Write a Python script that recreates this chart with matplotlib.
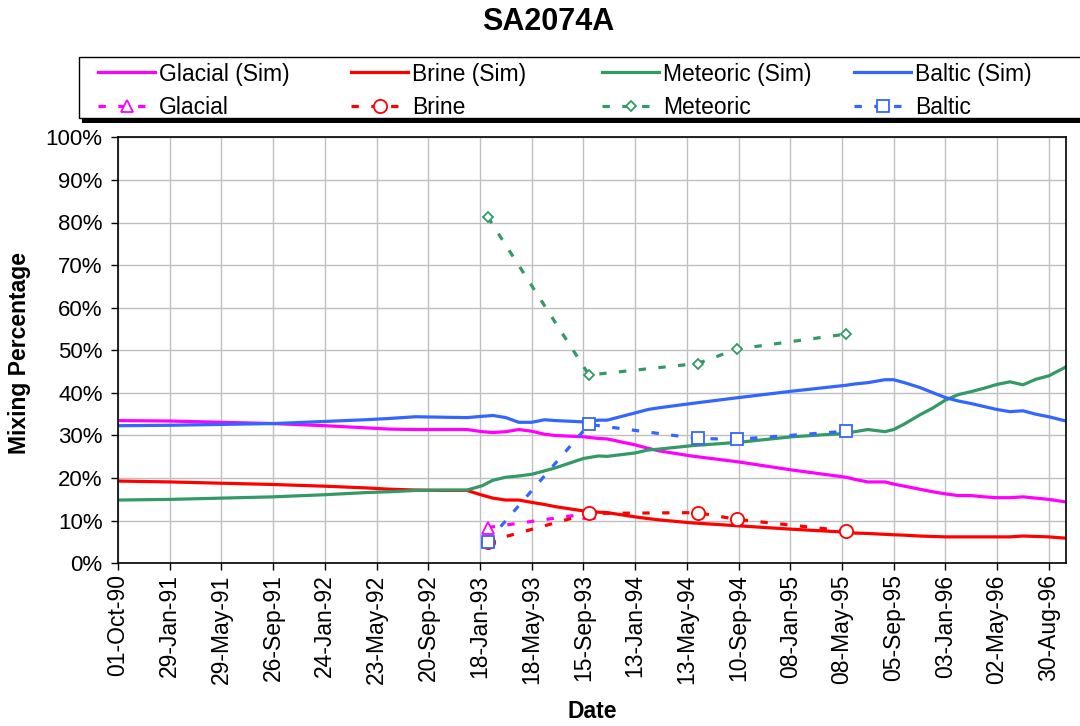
import matplotlib
matplotlib.use("Agg")
import matplotlib.pyplot as plt
import matplotlib.dates as mdates
from matplotlib.patches import Rectangle
from matplotlib.ticker import FuncFormatter
import numpy as np
import pandas as pd

plt.rcParams['font.family'] = ['Liberation Sans', 'DejaVu Sans']

# simulated mixing fractions (%), roughly monthly output
sim_dates = ['1990-10-01', '1991-01-29', '1991-05-29', '1991-09-26', '1992-01-24',
             '1992-04-28', '1992-06-22', '1992-08-21', '1992-10-20', '1992-12-19',
             '1993-01-23', '1993-02-17', '1993-03-19', '1993-04-18', '1993-05-18',
             '1993-06-17', '1993-07-12', '1993-09-15', '1993-10-20', '1993-11-09',
             '1994-01-13', '1994-02-12', '1994-03-09', '1994-05-23', '1994-09-10',
             '1995-01-12', '1995-05-18', '1995-06-07', '1995-07-07', '1995-08-16',
             '1995-09-05', '1995-09-30', '1995-11-04', '1995-12-04', '1996-01-03',
             '1996-02-02', '1996-03-03', '1996-04-02', '1996-05-02', '1996-06-01',
             '1996-07-01', '1996-07-31', '1996-08-30', '1996-10-09']

glacial_sim = [33.5, 33.4, 33.1, 32.8, 32.3, 31.8, 31.5, 31.4, 31.4, 31.4,
               30.9, 30.7, 30.9, 31.4, 31.0, 30.3, 30.0, 29.7, 29.3, 29.2,
               27.8, 27.0, 26.4, 25.2, 23.8, 21.9, 20.2, 19.7, 19.1, 19.1,
               18.6, 18.1, 17.4, 16.8, 16.3, 15.9, 15.9, 15.6, 15.4, 15.4,
               15.6, 15.3, 15.0, 14.4]

brine_sim = [19.3, 19.1, 18.8, 18.5, 18.1, 17.7, 17.4, 17.2, 17.1, 17.1,
             16.0, 15.3, 14.85, 14.85, 14.3, 13.8, 13.3, 12.3, 12.0, 11.9,
             10.9, 10.5, 10.2, 9.5, 8.8, 8.0, 7.3, 7.1, 7.0, 6.8,
             6.7, 6.6, 6.4, 6.3, 6.2, 6.2, 6.2, 6.2, 6.2, 6.2,
             6.4, 6.3, 6.2, 5.9]

meteoric_sim = [14.85, 15.0, 15.3, 15.6, 16.1, 16.6, 16.8, 17.1, 17.2, 17.2,
                18.2, 19.5, 20.2, 20.5, 20.9, 21.7, 22.4, 24.6, 25.2, 25.1,
                25.9, 26.6, 26.8, 27.6, 28.4, 29.7, 30.5, 30.9, 31.4, 30.9,
                31.4, 32.7, 34.8, 36.4, 38.3, 39.6, 40.3, 41.1, 42.0, 42.6,
                41.9, 43.2, 44.0, 46.1]

baltic_sim = [32.3, 32.4, 32.6, 32.8, 33.3, 33.7, 34.0, 34.4, 34.3, 34.2,
              34.5, 34.7, 34.2, 33.1, 33.1, 33.7, 33.5, 33.2, 33.6, 33.6,
              35.3, 36.1, 36.5, 37.5, 38.9, 40.4, 41.8, 42.1, 42.4, 43.1,
              43.1, 42.4, 41.3, 40.1, 38.9, 38.1, 37.5, 36.8, 36.1, 35.6,
              35.8, 35.0, 34.4, 33.4]

# measured samples (%)
obs_dates = ['1993-02-05', '1993-09-28', '1994-06-07', '1994-09-07', '1995-05-17']
glacial_obs = [8.4, 11.7]
brine_obs = [5.1, 11.7, 11.9, 10.3, 7.6]
meteoric_obs = [81.3, 44.2, 46.9, 50.3, 53.8]
baltic_obs = [5.1, 32.6, 29.3, 29.1, 31.0]

c_glac, c_brine, c_met, c_balt = '#FF00FF', '#FF0000', '#339966', '#3366FF'

W, H = 1080, 726
fig = plt.figure(figsize=(W / 100, H / 100), dpi=100)
ax = fig.add_axes([118 / W, 1 - 563.3 / H, (1066 - 118) / W, (563.3 - 137.3) / H])

sd = pd.to_datetime(sim_dates)
od = pd.to_datetime(obs_dates)
lw = 2.3
dash = (0, (2.3, 3.9))

l1, = ax.plot(sd, glacial_sim, color=c_glac, lw=lw, label='Glacial (Sim)')
l2, = ax.plot(sd, brine_sim, color=c_brine, lw=lw, label='Brine (Sim)')
l3, = ax.plot(sd, meteoric_sim, color=c_met, lw=lw, label='Meteoric (Sim)')
l4, = ax.plot(sd, baltic_sim, color=c_balt, lw=lw, label='Baltic (Sim)')

p1, = ax.plot(od[:len(glacial_obs)], glacial_obs, color=c_glac, lw=lw, ls=dash,
              marker='^', ms=8, mfc='white', mec=c_glac, mew=1.3, label='Glacial')
p2, = ax.plot(od, brine_obs, color=c_brine, lw=lw, ls=dash,
              marker='o', ms=9.5, mfc='white', mec=c_brine, mew=1.3, label='Brine')
p3, = ax.plot(od, meteoric_obs, color=c_met, lw=lw, ls=dash,
              marker='D', ms=5.5, mfc='white', mec=c_met, mew=1.3, label='Meteoric')
p4, = ax.plot(od, baltic_obs, color=c_balt, lw=lw, ls=dash,
              marker='s', ms=8, mfc='white', mec=c_balt, mew=1.3, label='Baltic')

start = pd.Timestamp('1990-10-01')
ax.set_xlim(start, start + pd.Timedelta(days=2200))
ax.set_xticks(pd.date_range(start, periods=19, freq='120D'))
ax.xaxis.set_major_formatter(mdates.DateFormatter('%d-%b-%y'))
ax.set_ylim(0, 100)
ax.set_yticks(np.arange(0, 101, 10))
ax.yaxis.set_major_formatter(FuncFormatter(lambda v, p: f'{v:.0f}%'))

ax.grid(True, color='#C0C0C0', lw=1)
ax.set_axisbelow(True)
for s in ax.spines.values():
    s.set_color('black')
    s.set_linewidth(1.2)
ax.tick_params(axis='both', direction='out', length=5, width=1, colors='black')
ax.tick_params(axis='y', labelsize=16, pad=6)
ax.tick_params(axis='x', labelsize=16.5, pad=3, labelrotation=90)

fig.text(548 / W, 1 - 22 / H, 'SA2074A', ha='center', va='center',
         fontsize=22, fontweight='bold')
fig.text(20 / W, 1 - 353 / H, 'Mixing Percentage', ha='center', va='center',
         rotation=90, fontsize=16.5, fontweight='bold')
fig.text(592 / W, 1 - 712 / H, 'Date', ha='center', va='center',
         fontsize=16.5, fontweight='bold')

# legend box with a drop shadow
fig.add_artist(Rectangle((82 / W, 1 - 122.7 / H), 1100 / W, (122.7 - 60) / H,
                         transform=fig.transFigure, facecolor='black',
                         edgecolor='none', zorder=0))
fig.add_artist(Rectangle((79 / W, 1 - 118.3 / H), 1100 / W, (118.3 - 56.7) / H,
                         transform=fig.transFigure, facecolor='white',
                         edgecolor='black', lw=1, zorder=1))

cols = [(l1, p1, 98), (l2, p2, 351), (l3, p3, 602), (l4, p4, 854)]
for sim, obs, x0 in cols:
    leg = fig.legend(handles=[sim, obs], loc='upper left',
                     bbox_to_anchor=(x0 / W, 1 - 62.5 / H), frameon=False,
                     fontsize=16.5, numpoints=1, handlelength=2.5,
                     handletextpad=0.17, borderpad=0, borderaxespad=0,
                     labelspacing=0.47)
    leg.set_zorder(2)

fig.savefig('out.png', dpi=100)
